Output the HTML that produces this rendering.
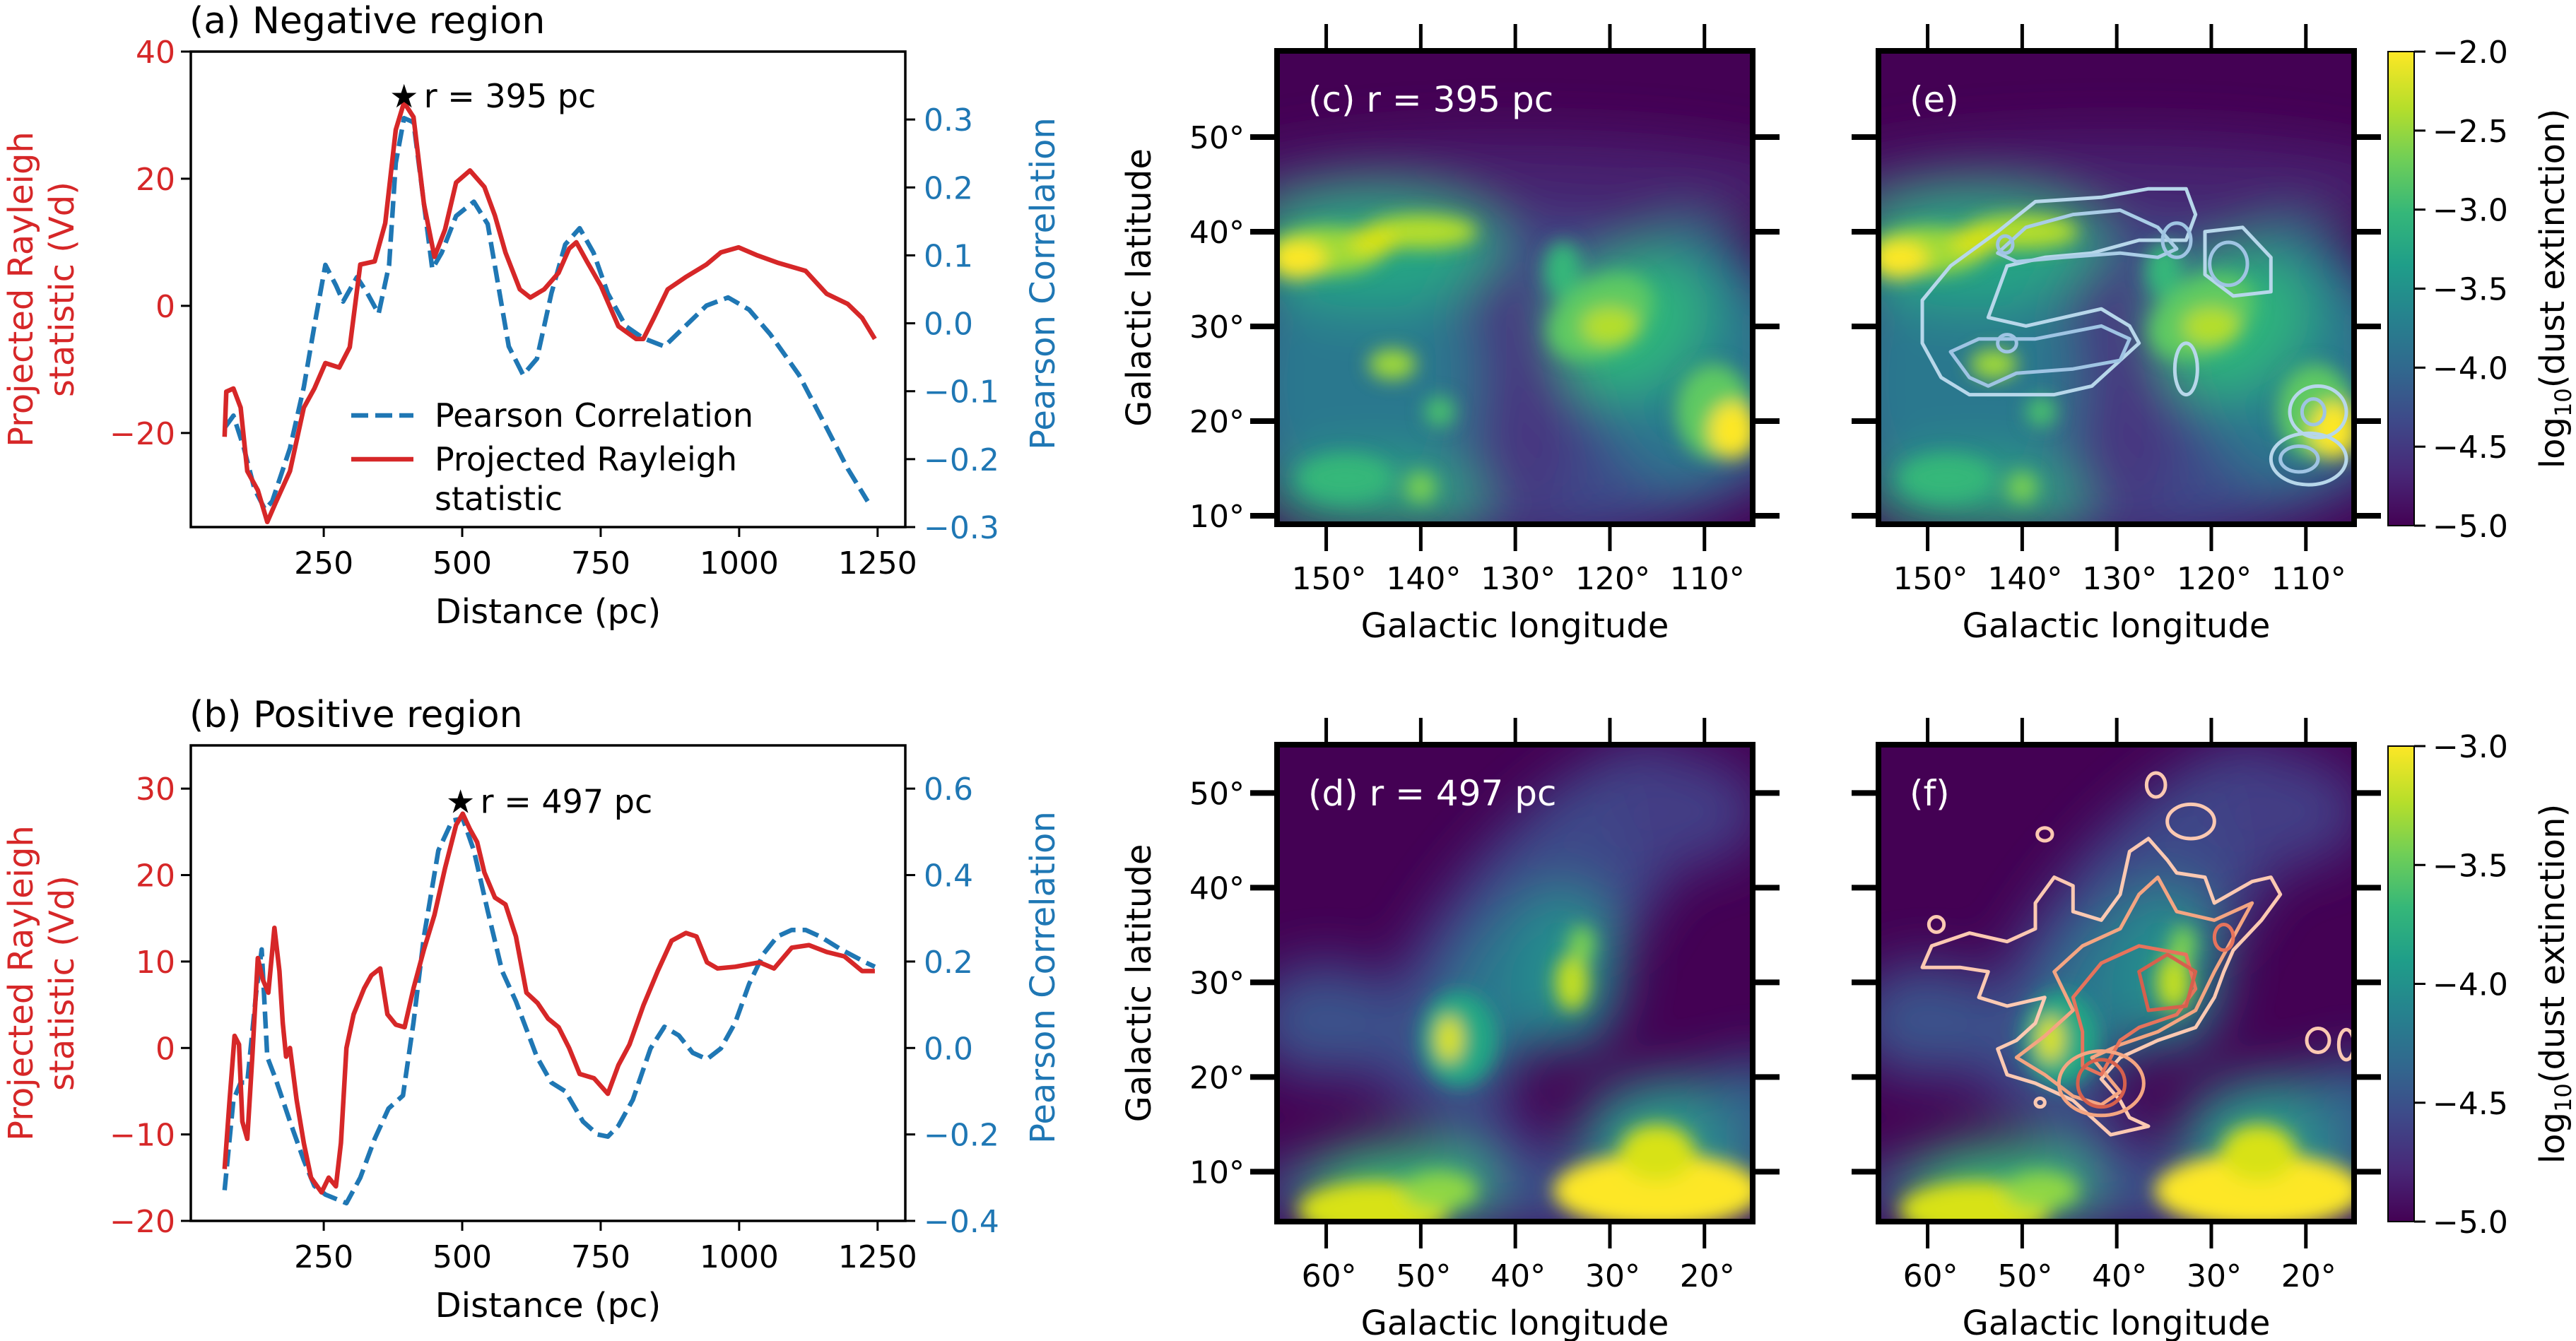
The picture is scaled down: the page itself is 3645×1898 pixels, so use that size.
<!DOCTYPE html>
<html><head><meta charset="utf-8">
<style>
html,body{margin:0;padding:0;background:#fff;}
svg{display:block;font-family:"DejaVu Sans","Liberation Sans",sans-serif;}
</style></head>
<body>
<svg id="fig" xmlns="http://www.w3.org/2000/svg" width="3645" height="1898" viewBox="0 0 3645 1898">
<defs>
  <filter id="blurBig" x="-30%" y="-30%" width="160%" height="160%"><feGaussianBlur stdDeviation="38"/></filter>
  <filter id="blurSmall" x="-30%" y="-30%" width="160%" height="160%"><feGaussianBlur stdDeviation="13"/></filter>
  <clipPath id="clipC"><rect x="1807" y="72" width="673" height="670"/></clipPath>
  <clipPath id="clipE"><rect x="2658" y="72" width="673" height="670"/></clipPath>
  <clipPath id="clipD"><rect x="1807" y="1054" width="673" height="675"/></clipPath>
  <clipPath id="clipF"><rect x="2658" y="1054" width="673" height="675"/></clipPath>
  <linearGradient id="viridis" x1="0" y1="1" x2="0" y2="0">
    <stop offset="0" stop-color="#440154"/><stop offset="0.11" stop-color="#482878"/>
    <stop offset="0.22" stop-color="#3e4989"/><stop offset="0.33" stop-color="#31688e"/>
    <stop offset="0.44" stop-color="#26828e"/><stop offset="0.55" stop-color="#1f9e89"/>
    <stop offset="0.66" stop-color="#35b779"/><stop offset="0.77" stop-color="#6ece58"/>
    <stop offset="0.88" stop-color="#b5de2b"/><stop offset="1" stop-color="#fde725"/>
  </linearGradient>
</defs>
<g id="root"></g>
</svg>
<script>
// ---------- data: panel (a) ----------
const aRedD = [71,74,87,100,112,131,148,163,189,214,233,253,278,297,316,342,361,380,395,412,431,450,469,489,514,540,559,578,604,623,648,674,693,706,725,750,782,814,827,846,871,903,941,967,999,1031,1069,1120,1158,1196,1222,1245];
const aRedV = [-20.6,-13.5,-13,-16,-26,-29,-34,-31,-26,-16,-13,-9,-9.7,-6.5,6.5,7,13,27.7,32,29.7,16,7.7,12,19.4,21.3,18.7,14.2,8.4,2.6,1.3,2.6,5.2,9,10,7,3.2,-3.2,-5.2,-5.2,-1.9,2.6,4.5,6.5,8.4,9.2,8,6.8,5.5,1.9,0.3,-1.9,-5.2];
const aBlueD = [71,87,106,125,144,157,189,214,233,253,272,285,310,329,349,368,380,395,412,431,446,463,489,521,546,565,584,610,635,661,686,712,737,763,795,827,865,903,941,980,1018,1056,1108,1158,1196,1232];
const aBlueV = [-0.154,-0.136,-0.184,-0.244,-0.274,-0.262,-0.184,-0.094,-0.004,0.086,0.056,0.032,0.068,0.044,0.014,0.086,0.236,0.302,0.296,0.176,0.080,0.104,0.158,0.179,0.146,0.056,-0.034,-0.076,-0.052,0.044,0.116,0.140,0.104,0.044,-0.004,-0.022,-0.034,-0.004,0.026,0.038,0.020,-0.016,-0.076,-0.154,-0.214,-0.262];
// ---------- data: panel (b) ----------
const bRedD = [71,80,89,97,103,112,121,131,140,150,161,170,176,182,189,201,214,227,246,259,272,281,291,304,323,336,352,365,380,396,412,431,450,469,489,501,514,527,540,559,578,597,616,636,655,674,693,712,738,763,782,802,827,853,878,904,923,942,961,993,1037,1063,1095,1126,1158,1190,1222,1245];
const bRedV = [-14,-6,1.4,0.4,-8.5,-10.5,-1,10.4,7.9,6.4,13.9,8.9,2.9,-1,0,-6,-11,-15,-16.7,-15,-16,-11,0,3.9,6.9,8.4,9.2,3.9,2.7,2.4,6.9,11.4,15.4,20.8,25.8,27.1,25.3,23.8,20.3,17.4,16.6,12.9,6.4,5.2,3.4,2.4,0,-3,-3.5,-5.3,-2,0.4,4.9,8.9,12.4,13.3,12.9,9.9,9.2,9.4,9.9,9.2,11.6,11.9,11.1,10.6,8.9,8.9];
const bBlueD = [71,87,100,112,128,138,148,163,189,214,233,253,291,316,342,367,393,412,431,457,482,501,521,546,572,597,635,661,686,718,744,763,782,808,840,865,891,916,942,967,993,1018,1044,1069,1095,1120,1146,1184,1228,1245];
const bBlueV = [-0.329,-0.12,-0.08,-0.08,0.128,0.228,-0.021,-0.071,-0.17,-0.26,-0.319,-0.339,-0.359,-0.3,-0.21,-0.14,-0.11,0.059,0.258,0.457,0.526,0.531,0.457,0.317,0.178,0.108,-0.021,-0.08,-0.1,-0.17,-0.2,-0.205,-0.18,-0.12,-0.001,0.049,0.029,-0.011,-0.026,-0.001,0.059,0.148,0.218,0.258,0.273,0.273,0.258,0.228,0.198,0.188];
// ticks
const xTicks = [250,500,750,1000,1250];
const aLeftTicks = [-20,0,20,40];
const aRightTicks = [-0.3,-0.2,-0.1,0.0,0.1,0.2,0.3];
const bLeftTicks = [-20,-10,0,10,20,30];
const bRightTicks = [-0.4,-0.2,0.0,0.2,0.4,0.6];
const topLon = [150,140,130,120,110];
const botLon = [60,50,40,30,20];
const latTicks = [10,20,30,40,50];
const cbTopTicks = [-2.0,-2.5,-3.0,-3.5,-4.0,-4.5,-5.0];
const cbBotTicks = [-3.0,-3.5,-4.0,-4.5,-5.0];

const NS="http://www.w3.org/2000/svg";
const root=document.getElementById('root');
function el(tag,attrs,parent,text){const e=document.createElementNS(NS,tag);for(const k in attrs)e.setAttribute(k,attrs[k]);if(text!==undefined)e.textContent=text;(parent||root).appendChild(e);return e;}
function fmt(v,d){let s=v.toFixed(d);if(v<0)s='\u2212'+s.slice(1);return s;}

function linePanel(o){
  const g=el('g',{});
  
  
  const L=270,R=1281,T=o.top,B=o.top+673;
  const xs=d=>L+(d-10)*(R-L)/1290;
  const yl=v=>T+(o.lmax-v)*(B-T)/(o.lmax-o.lmin);
  const yr=v=>T+(o.rmax-v)*(B-T)/(o.rmax-o.rmin);
  let p='';o.bD.forEach((d,i)=>{p+=(i?'L':'M')+xs(d).toFixed(1)+','+yr(o.bV[i]).toFixed(1);});
  const bl=el('path',{d:p,fill:'none',stroke:'#1f77b4','stroke-width':6.5,'stroke-dasharray':'24,10','stroke-linejoin':'round'},g);
  
  
  p='';o.rD.forEach((d,i)=>{p+=(i?'L':'M')+xs(d).toFixed(1)+','+yl(o.rV[i]).toFixed(1);});
  const rl=el('path',{d:p,fill:'none',stroke:'#d62728','stroke-width':6.5,'stroke-linejoin':'round'},g);
  
  
  const sx=xs(o.star[0]),sy=yl(o.star[1]);
  const st=el('text',{x:sx,y:sy+16,'text-anchor':'middle','font-size':46,fill:'#000'},g,'\u2605');
  
  
  const an=el('text',{x:sx+28,y:sy+16,'font-size':46,fill:'#000'},g,'r = '+o.star[0]+' pc');
  
  
  el('rect',{x:L,y:T,width:R-L,height:B-T,fill:'none',stroke:'#000','stroke-width':3.5},g);
  xTicks.forEach(t=>{const x=xs(t);el('line',{x1:x,y1:B,x2:x,y2:B+14,stroke:'#000','stroke-width':3},g);
    const tl=el('text',{x:x,y:B+66,'text-anchor':'middle','font-size':44},g,t);
    
    });
  o.lt.forEach(t=>{const y=yl(t);el('line',{x1:L,y1:y,x2:L-14,y2:y,stroke:'#000','stroke-width':3},g);
    const tl=el('text',{x:L-22,y:y+16,'text-anchor':'end','font-size':44,fill:'#d62728'},g,fmt(t,0));
    
    });
  o.rt.forEach(t=>{const y=yr(t);el('line',{x1:R,y1:y,x2:R+14,y2:y,stroke:'#000','stroke-width':3},g);
    const tl=el('text',{x:R+26,y:y+16,'font-size':44,fill:'#1f77b4'},g,fmt(t,1));
    
    });
  const xl=el('text',{x:(L+R)/2,y:B+136,'text-anchor':'middle','font-size':48},g,'Distance (pc)');
  
  
  const cy=(T+B)/2;
  const yt=el('text',{transform:`translate(46,${cy}) rotate(-90)`,'text-anchor':'middle','font-size':48,fill:'#d62728'},g,'Projected Rayleigh');
  
  
  el('text',{transform:`translate(104,${cy}) rotate(-90)`,'text-anchor':'middle','font-size':48,fill:'#d62728'},g,'statistic (Vd)');
  const rt=el('text',{transform:`translate(1492,${cy-8}) rotate(-90)`,'text-anchor':'middle','font-size':48,fill:'#1f77b4'},g,'Pearson Correlation');
  
  
  const ti=el('text',{x:268,y:T-26,'font-size':52},g,o.title);
  
  
  return g;
}
linePanel({name:'panel-a-negative-region',top:73,lmin:-34.8,lmax:40,rmin:-0.3,rmax:0.4,rD:aRedD,rV:aRedV,bD:aBlueD,bV:aBlueV,lt:aLeftTicks,rt:aRightTicks,star:[395,33],title:'(a) Negative region'});
linePanel({name:'panel-b-positive-region',top:1055,lmin:-20,lmax:35,rmin:-0.4,rmax:0.7,rD:bRedD,rV:bRedV,bD:bBlueD,bV:bBlueV,lt:bLeftTicks,rt:bRightTicks,star:[497,28.5],title:'(b) Positive region'});

const lg=el('g',{});


el('line',{x1:497,y1:588,x2:585,y2:588,stroke:'#1f77b4','stroke-width':6.5,'stroke-dasharray':'24,10'},lg);
el('text',{x:615,y:604,'font-size':46},lg,'Pearson Correlation');
el('line',{x1:497,y1:650,x2:585,y2:650,stroke:'#d62728','stroke-width':6.5},lg);
el('text',{x:615,y:666,'font-size':46},lg,'Projected Rayleigh');
el('text',{x:615,y:722,'font-size':46},lg,'statistic');

// ---------- maps ---------- [lon, lat, rxDeg, ryDeg, color, opacity, rotation, big-blur?]
const topBlobs=[
 [130,45,32,5,'#47206f',1,0,1],[130,24,34,17,'#3e4989',1,0,1],[146,24,12,14,'#2a788e',1,0,1],[112,27,10,14,'#2a788e',1,0,1],
 [145,38,14,6,'#25a584',1,0,1],[145,12,12,4,'#2ea37f',1,0,1],[118,30,9,7,'#2fb47c',1,-30,1],
 [129,21,5,12,'#463480',1,0,1],[131,33,3.5,4,'#46307e',1,0,1],
 [150,38,6,2.5,'#a0da39',1,0,0],[140,40,6,1.8,'#b5de2b',1,0,0],[153,37,3,2,'#fde725',1,0,0],[145,39,2.5,1.6,'#d8e219',1,0,0],
 [121,31,6,4,'#5ec962',1,-30,0],[120,30,3,2,'#b5de2b',1,0,0],[125,36,2,3,'#35b779',1,0,0],
 [109,21,4,5,'#5ec962',1,0,0],[107,19,2.5,3,'#fde725',1,0,0],
 [143,26,2.5,1.6,'#a0da39',1,0,0],[140,13,1.6,1.6,'#7ad151',1,0,0],[138,21,1.6,1.6,'#4ac16d',1,0,0],[148,14,5,2.5,'#35b779',1,0,0]];
const botBlobs=[
 [38,36,24,9,'#3e4989',1,-50,1],[22,48,8,6,'#433e85',1,0,1],[60,26,8,6,'#3b528b',1,0,1],[45,17,4,5,'#3e4989',1,0,1],
 [40,30,12,6,'#2a788e',1,-55,1],[34,31,5,8,'#21918c',1,0,1],[46,24,4,5,'#22a884',1,0,0],
 [47,24,1.4,2.4,'#dde318',1,0,0],[34,30,1.8,3,'#c2df23',1,0,0],[33,34,1.4,2,'#7ad151',1,0,0],
 [40,8,30,4,'#3b528b',1,0,1],[52,9,10,4,'#35b779',1,0,1],[55,6,8,3,'#d8e219',1,0,0],[48,8,4,2,'#8fd744',1,0,0],
 [22,14,11,6,'#2a9a8a',1,0,1],[15,16,5,6,'#31688e',1,0,1],[25,8,11,4,'#fde725',1,0,0],[25,12,4,3,'#d8e219',1,0,0],[40,11,3,4,'#3e4989',1,0,1]];

// contour shapes, in reference-crop units (converted below)
const eContours=[
 {c:'#b7d7ea',p:[[870,700],[900,620],[950,540],[990,470],[1060,460],[1110,440],[1150,440],[1160,500],[1150,560],[1100,560],[1050,590],[1000,600],[960,620],[940,740],[980,760],[1020,740],[1060,720],[1090,760],[1100,800],[1080,840],[1050,900],[1010,920],[960,920],[920,920],[890,880],[870,800]]},
 {c:'#9fc4e3',p:[[900,820],[930,790],[990,790],[1060,760],[1090,790],[1080,840],[1030,860],[970,870],[940,900],[920,880]]},
 {c:'#a9cde6',p:[[950,590],[980,530],[1030,500],[1080,490],[1120,530],[1140,580],[1120,600],[1080,590],[1020,600],[970,610]]},
 {c:'#b7d7ea',p:[[1170,540],[1210,530],[1240,600],[1240,680],[1200,690],[1170,640]]}
];
const eEllipses=[[1140,560,15,40,'#9fc4e3'],[1195,615,20,50,'#9fc4e3'],[1290,960,30,60,'#b7d7ea'],[1285,960,12,30,'#9fc4e3'],[1280,1070,40,60,'#b7d7ea'],[1270,1070,20,30,'#9fc4e3'],[1150,860,12,60,'#b7d7ea'],[958,570,8,20,'#9fc4e3'],[960,800,10,20,'#9fc4e3']];
const fContours=[
 {c:'#fcc9b2',p:[[870,690],[880,640],[920,610],[960,630],[990,600],[990,540],[1010,480],[1030,500],[1030,560],[1060,580],[1080,520],[1090,420],[1110,390],[1130,440],[1140,470],[1170,480],[1180,540],[1220,490],[1240,480],[1250,520],[1230,580],[1200,650],[1190,700],[1180,760],[1160,830],[1120,860],[1080,900],[1060,950],[1080,1000],[1090,1040],[1110,1060],[1070,1080],[1050,1040],[1030,1000],[990,960],[960,940],[950,880],[970,860],[990,820],[1000,760],[960,780],[930,760],[940,700],[910,690]]},
 {c:'#f4a582',p:[[970,900],[1000,850],[1030,790],[1010,700],[1040,640],[1080,600],[1100,520],[1120,480],[1140,560],[1180,580],[1220,540],[1200,620],[1180,700],[1160,790],[1120,840],[1080,870],[1050,900],[1080,980],[1060,1010],[1030,990],[1000,940]]},
 {c:'#e6735c',p:[[1030,760],[1060,680],[1100,640],[1150,660],[1160,740],[1140,800],[1100,830],[1080,860],[1060,940],[1040,920],[1040,840]]},
 {c:'#d6604d',p:[[1100,700],[1130,660],[1160,700],[1150,780],[1110,790]]}
];
const fEllipses=[[1060,960,25,55,'#d6604d'],[1060,960,45,75,'#f4a582'],[1190,620,10,30,'#e6735c'],[1118,265,10,28,'#fcc9b2'],[1000,380,8,15,'#fcc9b2'],[1155,350,25,40,'#fcc9b2'],[885,590,8,18,'#fcc9b2'],[995,1005,5,10,'#fcc9b2'],[1290,860,12,28,'#fcc9b2'],[1320,870,8,35,'#fcc9b2']];

function mapPanel(o){
  const g=el('g',{});
  
  
  const L=o.left,T=o.top,W=673,H=o.h;
  const xm=lon=>L+(o.lonL-lon)*13.38;
  const ym=lat=>T+(o.latT-lat)*13.4;
  const img=el('g',{'clip-path':`url(#${o.clip})`},g);
  
  
  el('rect',{x:L-60,y:T-60,width:W+120,height:H+120,fill:'#440154'},img);
  const bgBig=el('g',{filter:'url(#blurBig)'},img);
  const bgSmall=el('g',{filter:'url(#blurSmall)'},img);
  o.blobs.forEach(b=>{const cx=xm(b[0]),cy=ym(b[1]);
    el('ellipse',{cx:cx,cy:cy,rx:b[2]*13.38,ry:b[3]*13.4,fill:b[4],opacity:b[5],transform:`rotate(${b[6]} ${cx} ${cy})`},b[7]?bgBig:bgSmall);});
  if(o.cont){
    const X=zx=>zx/0.75+1560, Y=zy=>zy/o.ky+o.y0;
    const cg=el('g',{fill:'none','stroke-linejoin':'round'},img);
    
    
    o.cont.forEach(c=>{el('path',{d:'M'+c.p.map(q=>X(q[0]).toFixed(1)+','+Y(q[1]).toFixed(1)).join('L')+'Z',stroke:c.c,'stroke-width':5},cg);});
    o.ell.forEach(e=>{el('ellipse',{cx:X(e[0]),cy:Y(e[1]),rx:e[2]/0.75,ry:e[3]/o.ky,stroke:e[4],'stroke-width':5},cg);});
  }
  el('rect',{x:L,y:T,width:W,height:H,fill:'none',stroke:'#000','stroke-width':8},g);
  o.lonT.forEach(t=>{const x=xm(t);
    el('line',{x1:x,y1:T-38,x2:x,y2:T,stroke:'#000','stroke-width':5},g);
    el('line',{x1:x,y1:T+H,x2:x,y2:T+H+38,stroke:'#000','stroke-width':5},g);
    const tl=el('text',{x:x+4,y:T+H+92,'text-anchor':'middle','font-size':44},g,t+'\u00b0');
    
    });
  latTicks.forEach(t=>{const y=ym(t);
    el('line',{x1:L-38,y1:y,x2:L,y2:y,stroke:'#000','stroke-width':8},g);
    el('line',{x1:L+W,y1:y,x2:L+W+38,y2:y,stroke:'#000','stroke-width':8},g);
    if(o.ylab){const tl=el('text',{x:L-46,y:y+16,'text-anchor':'end','font-size':44},g,t+'\u00b0');
      
      }});
  const xl=el('text',{x:L+W/2,y:T+H+160,'text-anchor':'middle','font-size':48},g,'Galactic longitude');
  
  
  if(o.ylab){const yl=el('text',{transform:`translate(1628,${T+H/2}) rotate(-90)`,'text-anchor':'middle','font-size':48},g,'Galactic latitude');
    
    }
  const pl=el('text',{x:L+44,y:T+86,'font-size':50,fill:'#fff'},g,o.label);
  
  
}
mapPanel({name:'panel-c-map',left:1807,top:72,h:670,lonL:155.2,latT:59.1,clip:'clipC',blobs:topBlobs,lonT:topLon,ylab:true,label:'(c) r = 395 pc'});
mapPanel({name:'panel-e-map-contours',left:2658,top:72,h:670,lonL:155.2,latT:59.1,clip:'clipE',blobs:topBlobs,lonT:topLon,ylab:false,label:'(e)',cont:eContours,ell:eEllipses,ky:1.647,y0:0});
mapPanel({name:'panel-d-map',left:1807,top:1054,h:675,lonL:65.2,latT:55.1,clip:'clipD',blobs:botBlobs,lonT:botLon,ylab:true,label:'(d) r = 497 pc'});
mapPanel({name:'panel-f-map-contours',left:2658,top:1054,h:675,lonL:65.2,latT:55.1,clip:'clipF',blobs:botBlobs,lonT:botLon,ylab:false,label:'(f)',cont:fContours,ell:fEllipses,ky:1.646,y0:950});

function colorbar(o){
  const g=el('g',{});
  
  
  el('rect',{x:3379,y:o.top,width:37,height:o.bot-o.top,fill:'url(#viridis)',stroke:'#000','stroke-width':2},g);
  const n=o.ticks.length;
  o.ticks.forEach((t,i)=>{const y=o.top+(o.bot-o.top)*i/(n-1);
    el('line',{x1:3416,y1:y,x2:3432,y2:y,stroke:'#000','stroke-width':3},g);
    const tl=el('text',{x:3442,y:y+16,'font-size':44},g,fmt(t,1));
    
    });
  const cy=(o.top+o.bot)/2;
  const t=el('text',{transform:`translate(3628,${cy}) rotate(-90)`,'text-anchor':'middle','font-size':48},g);
  
  
  el('tspan',{},t,'log');
  el('tspan',{'font-size':32,dy:10},t,'10');
  el('tspan',{dy:-10},t,'(dust extinction)');
}
colorbar({name:'colorbar-top',top:73,bot:744,ticks:cbTopTicks});
colorbar({name:'colorbar-bottom',top:1056,bot:1729,ticks:cbBotTicks});
</script>
</body></html>
